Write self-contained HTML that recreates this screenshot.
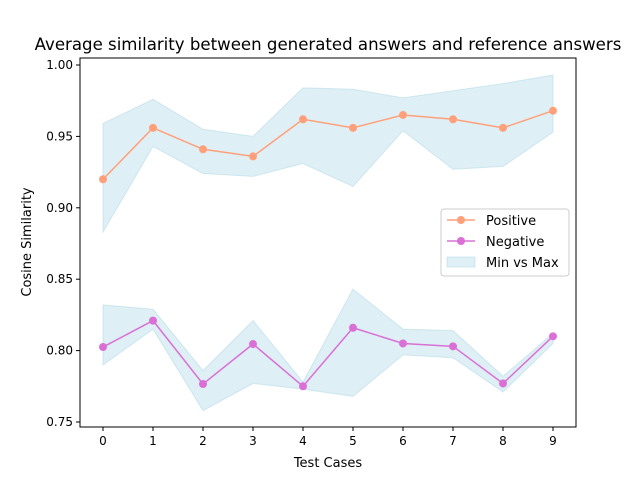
<!DOCTYPE html>
<html><head><meta charset="utf-8"><style>
body{margin:0;background:#fff;font-family:"Liberation Sans","DejaVu Sans",sans-serif;}
svg text{font-family:"DejaVu Sans","Liberation Sans",sans-serif;fill:#000;}
</style></head><body>
<svg id="chart" width="640" height="480">
<rect width="640" height="480" fill="#fff"/>
<text x="328" y="50" font-size="16.6" text-anchor="middle">Average similarity between generated answers and reference answers</text>
<g id="plot"></g>
<rect x="80" y="58" width="496" height="369" fill="none" stroke="#000" stroke-width="1"/>
<text x="328" y="467" font-size="13" text-anchor="middle">Test Cases</text>
<text transform="translate(31,242) rotate(-90)" font-size="13" text-anchor="middle">Cosine Similarity</text>
<g>
<rect x="441" y="209" width="128" height="67" rx="3" fill="#fff" fill-opacity="0.8" stroke="#ccc"/>
<g><line x1="447" y1="220" x2="475" y2="220" stroke="#ffa07a" stroke-width="1.5"/><circle cx="461" cy="220" r="4" fill="#ffa07a"/><text x="486" y="225" font-size="13">Positive</text></g>
<g><line x1="447" y1="241" x2="475" y2="241" stroke="#da70d6" stroke-width="1.5"/><circle cx="461" cy="241" r="4" fill="#da70d6"/><text x="486" y="246" font-size="13">Negative</text></g>
<g><rect x="447" y="257" width="28" height="10" fill="#add8e6" fill-opacity="0.4" stroke="#add8e6" stroke-opacity="0.5"/><text x="486" y="267" font-size="13">Min vs Max</text></g>
</g>
</svg>
<script>
const categories=[0,1,2,3,4,5,6,7,8,9];
const positive=[0.920,0.956,0.941,0.936,0.962,0.956,0.965,0.962,0.956,0.968];
const posMax=[0.959,0.976,0.955,0.950,0.984,0.983,0.977,0.982,0.987,0.993];
const posMin=[0.883,0.943,0.924,0.922,0.931,0.915,0.954,0.927,0.929,0.953];
const negative=[0.8025,0.821,0.7766,0.8046,0.775,0.816,0.805,0.803,0.777,0.810];
const negMax=[0.832,0.829,0.786,0.821,0.778,0.843,0.815,0.814,0.782,0.812];
const negMin=[0.790,0.815,0.758,0.777,0.773,0.768,0.797,0.795,0.771,0.805];
const yTicks=[0.75,0.80,0.85,0.90,0.95,1.00];
const NS="http://www.w3.org/2000/svg";
const g=document.getElementById('plot');
const xs=i=>103+(i-0)*50;
const ys=v=>422-(v-0.75)*1428;
function mk(t,a){const e=document.createElementNS(NS,t);for(const k in a)e.setAttribute(k,a[k]);g.appendChild(e);return e;}
function band(hi,lo,name){let d=categories.map((c,i)=>(i?'L':'M')+xs(c)+','+ys(hi[i])).join('');
for(let i=categories.length-1;i>=0;i--)d+='L'+xs(categories[i])+','+ys(lo[i]);
const p=mk('path',{d:d+'Z',fill:'#add8e6','fill-opacity':0.4,stroke:'#add8e6','stroke-opacity':0.5});

}
band(posMax,posMin,'positive-band');band(negMax,negMin,'negative-band');
function series(vals,col,name){const l=mk('polyline',{points:categories.map((c,i)=>xs(c)+','+ys(vals[i])).join(' '),fill:'none',stroke:col,'stroke-width':1.5});


categories.forEach((c,i)=>{const p=mk('circle',{cx:xs(c),cy:ys(vals[i]),r:4,fill:col});

});}
series(positive,'#ffa07a','positive');series(negative,'#da70d6','negative');
categories.forEach(c=>{mk('line',{x1:xs(c),x2:xs(c),y1:427,y2:431,stroke:'#000'});
const t=mk('text',{x:xs(c),y:445,'font-size':12,'text-anchor':'middle'});t.textContent=c;

});
yTicks.forEach(v=>{mk('line',{x1:76,x2:80,y1:ys(v),y2:ys(v),stroke:'#000'});
const t=mk('text',{x:73,y:ys(v)+4,'font-size':12,'text-anchor':'end'});t.textContent=v.toFixed(2);

});
</script>
</body></html>
